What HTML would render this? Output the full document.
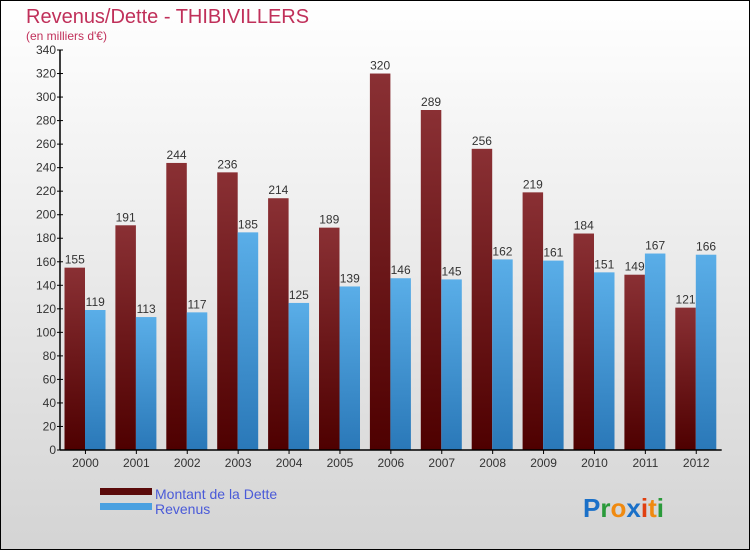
<!DOCTYPE html>
<html><head><meta charset="utf-8"><style>
body{margin:0}
#c{width:750px;height:550px;position:relative;overflow:hidden}
svg text{font-family:"Liberation Sans",sans-serif}
</style></head><body>
<div id="c">
<svg id="s" width="750" height="550" xmlns="http://www.w3.org/2000/svg">
<defs>
<linearGradient id="bg" x1="0" y1="0" x2="0" y2="1"><stop offset="0" stop-color="#ffffff"/><stop offset="1" stop-color="#d4d4d4"/></linearGradient>
<linearGradient id="gd" x1="0" y1="0" x2="0" y2="1"><stop offset="0" stop-color="#8a3034"/><stop offset="1" stop-color="#4e0000"/></linearGradient>
<linearGradient id="gr" x1="0" y1="0" x2="0" y2="1"><stop offset="0" stop-color="#5aaee8"/><stop offset="1" stop-color="#2a78b8"/></linearGradient>
</defs>
<rect x="0.5" y="0.5" width="749" height="549" fill="url(#bg)" stroke="#000"/>
<text x="26" y="23" font-size="20" fill="#c0305a">Revenus/Dette - THIBIVILLERS</text>
<text x="26" y="40" font-size="12" fill="#c0305a">(en milliers d'€)</text>
<g id="plot"></g>
<rect x="100" y="488" width="52" height="7" fill="#5a0a0a"/>
<text x="155" y="499" font-size="14" fill="#4a5ad8">Montant de la Dette</text>
<rect x="100" y="503" width="52" height="7" fill="#4aa0e0"/>
<text x="155" y="514" font-size="14" fill="#4a5ad8">Revenus</text>
<text x="583" y="517" font-size="26" font-weight="bold"><tspan fill="#1a70c8">P</tspan><tspan fill="#2a9a3a">r</tspan><tspan fill="#f08a10">o</tspan><tspan fill="#1a70c8">x</tspan><tspan fill="#e04010">i</tspan><tspan fill="#f08a10">t</tspan><tspan fill="#2a9a3a">i</tspan></text>
</svg>
</div>
<script>
const years=["2000","2001","2002","2003","2004","2005","2006","2007","2008","2009","2010","2011","2012"];
const dette=[155,191,244,236,214,189,320,289,256,219,184,149,121];
const revenus=[119,113,117,185,125,139,146,145,162,161,151,167,166];
const ticks=[0,20,40,60,80,100,120,140,160,180,200,220,240,260,280,300,320,340];
const NS="http://www.w3.org/2000/svg";
const g=document.getElementById('plot');
const x0=60,gw=50.9,y0=450,ymax=340,h=400;
const y=v=>y0-v/ymax*h;
function mk(t,a,txt){const e=document.createElementNS(NS,t);for(const k in a)e.setAttribute(k,a[k]);if(txt!==undefined)e.textContent=txt;g.appendChild(e);return e;}
ticks.forEach(t=>{
 let e=mk('line',{x1:x0-3,x2:x0+3,y1:y(t),y2:y(t),stroke:'#000'});
 
 
 e=mk('text',{x:x0-4,y:y(t)+4,'font-size':12,'text-anchor':'end',fill:'#333'},t);
 
 
});
years.forEach((yr,i)=>{
 const gx=x0+i*gw;
 let e=mk('rect',{x:gx+4.5,y:y(dette[i]),width:20.5,height:y0-y(dette[i]),fill:'url(#gd)'});
 
 
 e=mk('rect',{x:gx+25,y:y(revenus[i]),width:20.5,height:y0-y(revenus[i]),fill:'url(#gr)'});
 
 
 e=mk('text',{x:gx+14.75,y:y(dette[i])-4,'font-size':12,'text-anchor':'middle',fill:'#333'},dette[i]);
 
 
 e=mk('text',{x:gx+35.25,y:y(revenus[i])-4,'font-size':12,'text-anchor':'middle',fill:'#333'},revenus[i]);
 
 
 e=mk('line',{x1:gx+gw/2,x2:gx+gw/2,y1:y0,y2:y0+4,stroke:'#000'});
 
 
 e=mk('text',{x:gx+gw/2,y:y0+17,'font-size':12,'text-anchor':'middle',fill:'#333'},yr);
 
 
});
let a=mk('line',{x1:x0,x2:x0,y1:y(ymax),y2:y0,stroke:'#000','stroke-width':1.5});


a=mk('line',{x1:x0,x2:x0+13*gw,y1:y0,y2:y0,stroke:'#000','stroke-width':1.5});


</script>
</body></html>
